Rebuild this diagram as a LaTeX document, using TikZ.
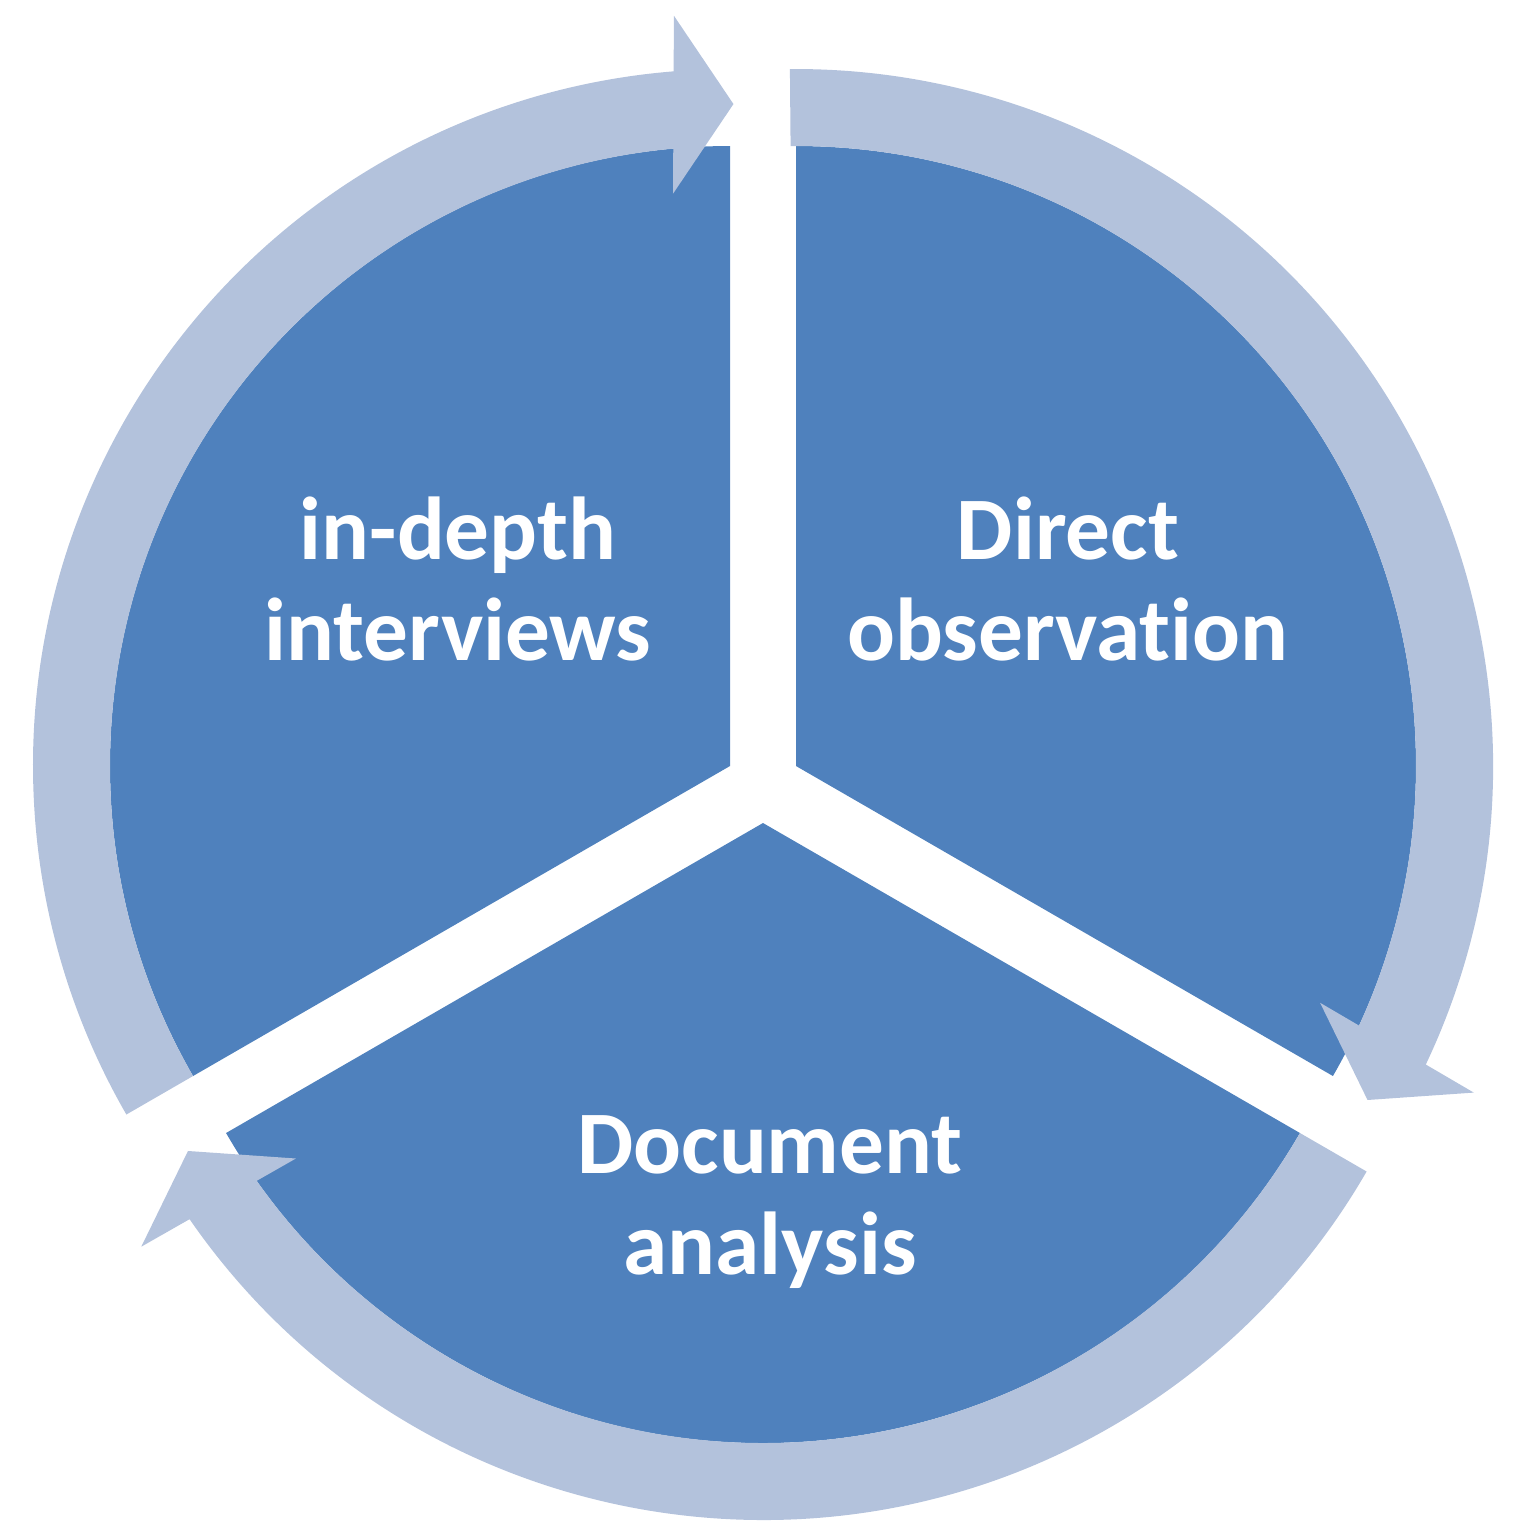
\documentclass[tikz,border=0pt]{standalone}
\usepackage{fontspec}
\setmainfont{Carlito}[Ligatures=NoCommon]
\usetikzlibrary{calc}
\definecolor{segblue}{RGB}{79,129,189}
\definecolor{ringblue}{RGB}{179,194,220}
\tikzset{
  seg/.style={fill=segblue},
  ring/.style={fill=ringblue},
  lbl/.style={text=white, font=\bfseries\fontsize{25.4}{28.5}\selectfont, align=center, inner sep=0pt},
}

\begin{document}
\begin{tikzpicture}

\useasboundingbox (0,0) rectangle (15.27,-15.40);

% centres of the three pulled-apart segments
\coordinate (tl) at (7.30,-7.66);
\coordinate (tr) at (7.96,-7.66);
\coordinate (bt) at (7.63,-8.23);

% segments
\fill[seg] (tl) -- ([shift={(tl)}]90:6.2) arc[start angle=90, end angle=210, radius=6.2] -- cycle;
\fill[seg] (tr) -- ([shift={(tr)}]90:6.2) arc[start angle=90, end angle=-30, radius=6.2] -- cycle;
\fill[seg] (bt) -- ([shift={(bt)}]-30:6.2) arc[start angle=-30, end angle=-150, radius=6.2] -- cycle;

% curved arrows round the segments
\fill[ring] ([shift={(tl)}]210:6.2) arc[start angle=210, end angle=95.25, radius=6.2]
  -- ($(tl)+(89.7:5.72)+(179.7:0.6)$) -- ([shift={(tl)}]89.7:6.62) -- ($(tl)+(89.7:7.5)+(179.7:0.6)$)
  -- ([shift={(tl)}]94.64:6.97) arc[start angle=94.64, end angle=210, radius=6.97] -- cycle;
\fill[ring] ([shift={(tr)}]90.5:6.2) arc[start angle=90.5, end angle=-24.75, radius=6.2]
  -- ($(tr)+(-30.3:5.72)+(59.7:0.6)$) -- ([shift={(tr)}]-30.3:6.62) -- ($(tr)+(-30.3:7.5)+(59.7:0.6)$)
  -- ([shift={(tr)}]-25.36:6.97) arc[start angle=-25.36, end angle=90.5, radius=6.97] -- cycle;
\fill[ring] ([shift={(bt)}]-30:6.2) arc[start angle=-30, end angle=-144.75, radius=6.2]
  -- ($(bt)+(-150.3:5.72)+(-60.3:0.6)$) -- ([shift={(bt)}]-150.3:6.62) -- ($(bt)+(-150.3:7.5)+(-60.3:0.6)$)
  -- ([shift={(bt)}]-145.36:6.97) arc[start angle=-145.36, end angle=-30, radius=6.97] -- cycle;

% labels
\node[lbl] (interviews) at (4.58,-5.79) {in-depth\\interviews};
\node[lbl] (observation) at (10.68,-5.79) {Direct\\observation};
\node[lbl] (documents) at (7.70,-12.02) {Document\\analysis};

\end{tikzpicture}
\end{document}
